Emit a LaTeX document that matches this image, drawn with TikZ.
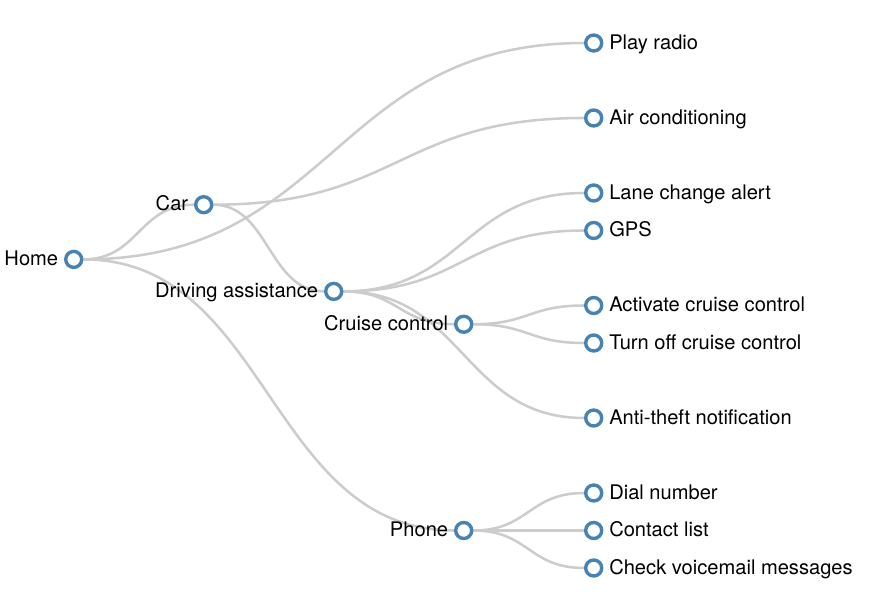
\documentclass[tikz,border=0pt]{standalone}
\usepackage{fontspec}
\setmainfont{TeX Gyre Heros}
\usepackage{xcolor}
\usetikzlibrary{calc,backgrounds}
\definecolor{steelblue}{HTML}{4682B4}
\definecolor{linkgray}{HTML}{CCCCCC}

\begin{document}
\begin{tikzpicture}[
  x=0.025cm, y=-0.025cm,
  font=\fontsize{14.3}{17}\selectfont,
  dot/.style={circle, draw=steelblue, fill=white, line width=2.4pt,
              minimum size=0.4cm, inner sep=0pt},
  lbl/.style={inner sep=0pt, text height=0.88em, text depth=0pt,
              label distance=0.14cm},
  branch/.style={dot, label={[lbl]left:#1}},
  leaf/.style={dot, label={[lbl]right:#1}},
  link/.style={draw=linkgray, line width=1.8pt},
]
\useasboundingbox (0,0) rectangle (882,602);

% inner nodes
\node[branch=Home] (home) at (73.7,259.4) {};
\node[branch=Car] (car) at (203.7,204.7) {};
\node[branch=Driving assistance] (drive) at (333.7,291.4) {};
\node[branch=Cruise control] (cruise) at (463.7,324.25) {};
\node[branch=Phone] (phone) at (463.7,530.5) {};

% leaves
\node[leaf=Play radio] (radio) at (593.7,43) {};
\node[leaf=Air conditioning] (air) at (593.7,118) {};
\node[leaf=Lane change alert] (lane) at (593.7,193) {};
\node[leaf=GPS] (gps) at (593.7,230.5) {};
\node[leaf=Activate cruise control] (activate) at (593.7,305.5) {};
\node[leaf=Turn off cruise control] (off) at (593.7,343) {};
\node[leaf=Anti-theft notification] (theft) at (593.7,418) {};
\node[leaf=Dial number] (dial) at (593.7,493) {};
\node[leaf=Contact list] (contacts) at (593.7,530.5) {};
\node[leaf=Check voicemail messages] (voicemail) at (593.7,568) {};

% links
\begin{pgfonlayer}{background}
\foreach \a/\b in {home/car, home/radio, home/phone, car/air, car/drive,
    drive/lane, drive/gps, drive/cruise, drive/theft,
    cruise/activate, cruise/off, phone/dial, phone/contacts, phone/voicemail}
  \draw[link] let \p1=(\a), \p2=(\b) in
    (\a) .. controls ({0.5*(\x1+\x2)},\y1) and ({0.5*(\x1+\x2)},\y2) .. (\b);
\end{pgfonlayer}

\end{tikzpicture}
\end{document}
